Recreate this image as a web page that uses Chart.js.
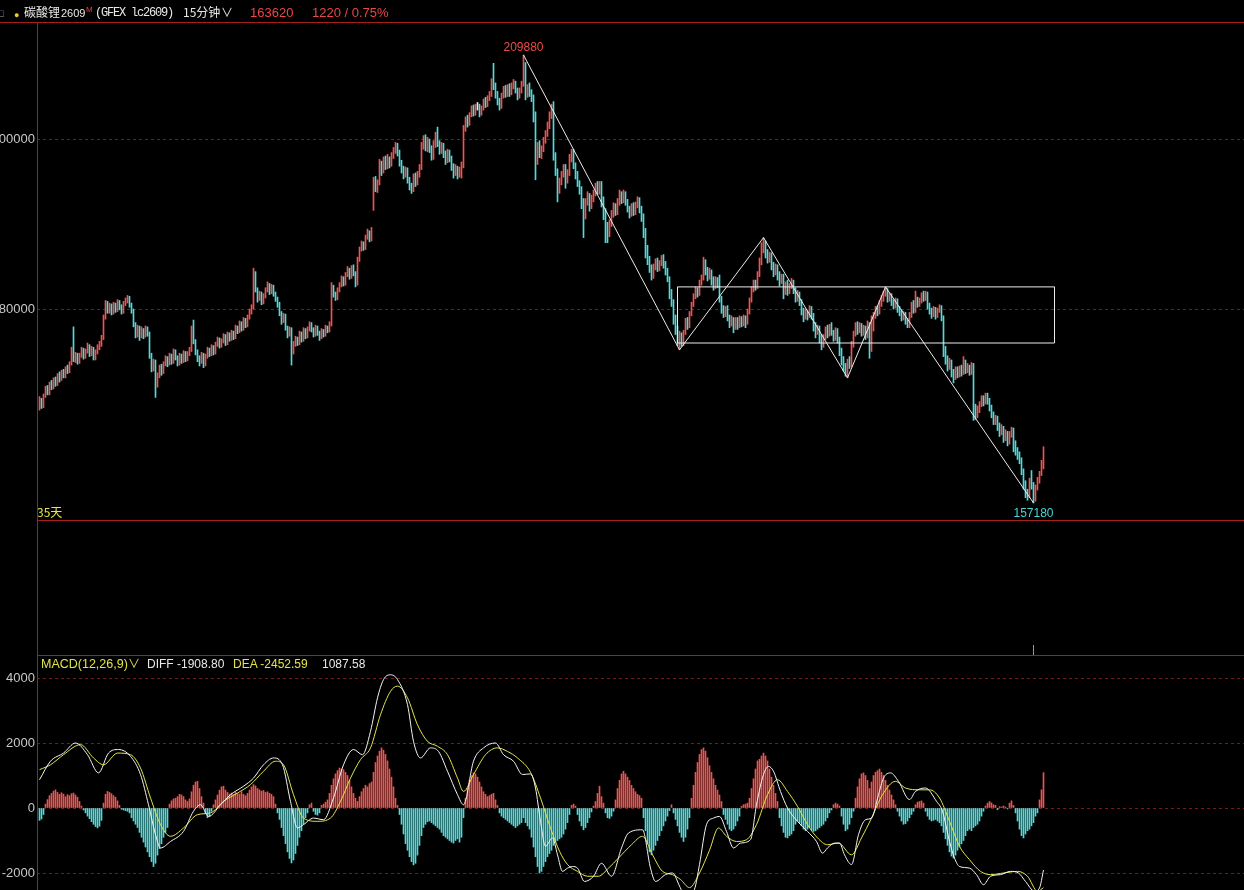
<!DOCTYPE html>
<html>
<head>
<meta charset="utf-8">
<title>碳酸锂2609 15分钟</title>
<script src="https://cdn.jsdelivr.net/npm/chart.js@4.4.1/dist/chart.umd.min.js"></script>
<style>
  html, body { margin: 0; padding: 0; background: #000; }
  body { position: relative; width: 1244px; height: 890px; overflow: hidden;
         font-family: "Liberation Sans", Arial, "Noto Sans CJK SC", sans-serif; }
  canvas { position: absolute; left: 0; }
  .txt { position: absolute; white-space: nowrap; font-size: 12px; line-height: 16px; color: #e8e8e8; }
  .cjk { font-family: "Noto Sans CJK SC", sans-serif; }
  .hline { position: absolute; height: 1px; background: #a81e1e; }
  .vline { position: absolute; width: 1px; background: #a81e1e; }
</style>
</head>
<body>
<canvas id="mainChart" width="1244" height="497" style="top:23px"></canvas>
<canvas id="macdChart" width="1244" height="235" style="top:655px"></canvas>

<div class="hline" style="left:0;top:22px;width:1244px"></div>
<div class="vline" style="left:37px;top:22px;height:868px"></div>
<div class="hline" style="left:37px;top:520px;width:1207px"></div>
<div class="hline" style="left:37px;top:655px;width:1207px"></div>
<div id="lowTick" style="position:absolute;top:645px;width:1px;height:10px;background:#9a9a9a"></div>

<!-- header -->
<span class="txt" style="left:-3px;top:5px;color:#9a9a9a;font-size:11px">□</span>
<span class="txt" style="left:14px;top:7px;color:#e8d020;font-size:9px">●</span>
<span class="txt cjk" style="left:24px;top:4px">碳酸锂</span>
<span class="txt" style="left:61px;top:5px;font-size:11px">2609</span>
<span class="txt" style="left:86px;top:2px;font-size:8px;color:#e84040">M</span>
<span class="txt" style="left:95px;top:5px;font-family:'Liberation Mono',monospace;letter-spacing:-1.2px">(GFEX lc2609)</span>
<span class="txt cjk" style="left:183px;top:4px">15分钟</span>
<span class="txt" style="left:221px;top:5px">∨</span>
<span class="txt" style="left:250px;top:5px;font-size:13px;color:#ec4646">163620</span>
<span class="txt" style="left:312px;top:5px;font-size:13px;color:#ec4646">1220 / 0.75%</span>

<!-- MACD readout -->
<span class="txt" style="left:41px;top:656px;font-size:12.5px;color:#e2e24a">MACD(12,26,9)</span>
<span class="txt" style="left:128px;top:656px;color:#e2e24a">∨</span>
<span class="txt" style="left:147px;top:656px">DIFF -1908.80</span>
<span class="txt" style="left:233px;top:656px;color:#e2e24a">DEA -2452.59</span>
<span class="txt" style="left:322px;top:656px">1087.58</span>

<script>
// prices in hundreds of yuan, one entry per 15-minute bar; open = previous close
const UNIT = 100;
const firstOpen = 1684;
const closes = [
  1692,1686,1698,1706,1701,1712,1708,1716,1711,1720,
  1718,1725,1721,1730,1727,1736,1752,1740,1746,1738,
  1745,1752,1744,1750,1756,1747,1753,1742,1749,1755,
  1758,1766,1790,1806,1798,1803,1796,1805,1799,1808,
  1802,1797,1806,1810,1813,1805,1798,1782,1770,1778,
  1768,1775,1769,1777,1771,1745,1730,1738,1712,1722,
  1731,1726,1735,1742,1736,1745,1738,1750,1743,1736,
  1745,1739,1748,1741,1747,1752,1778,1762,1750,1742,
  1738,1746,1735,1744,1752,1747,1755,1749,1758,1764,
  1757,1762,1768,1760,1770,1765,1772,1767,1778,1774,
  1783,1777,1787,1781,1790,1796,1802,1842,1823,1812,
  1818,1808,1815,1822,1828,1820,1826,1818,1812,1806,
  1795,1786,1792,1778,1770,1776,1750,1758,1765,1760,
  1771,1764,1775,1768,1776,1782,1776,1770,1778,1772,
  1767,1774,1770,1778,1775,1782,1826,1818,1813,1822,
  1828,1836,1830,1840,1846,1838,1848,1842,1830,1858,
  1870,1877,1872,1884,1890,1882,1893,1950,1942,1948,
  1970,1962,1975,1968,1976,1970,1980,1986,1992,1984,
  1972,1965,1958,1964,1952,1945,1940,1956,1948,1958,
  1966,1992,1998,1990,1996,1988,1980,1994,2003,1995,
  1986,1992,1982,1975,1984,1978,1968,1960,1966,1958,
  1964,1970,2012,2022,2018,2028,2035,2030,2038,2038,
  2030,2036,2044,2040,2047,2052,2068,2060,2052,2044,
  2038,2050,2058,2052,2060,2054,2062,2066,2058,2050,
  2056,2064,2088,2052,2060,2054,2048,2030,1975,1990,
  1982,1988,1998,2006,2014,2026,2036,1980,1962,1940,
  1950,1958,1966,1950,1960,1976,1984,1970,1958,1948,
  1940,1925,1912,1925,1934,1922,1930,1936,1944,1938,
  1946,1930,1915,1898,1888,1900,1912,1920,1914,1926,
  1934,1928,1935,1926,1918,1912,1920,1914,1922,1928,
  1918,1908,1890,1872,1858,1848,1840,1850,1856,1848,
  1854,1860,1852,1844,1836,1820,1808,1790,1778,1762,
  1770,1760,1772,1786,1780,1794,1805,1815,1822,1818,
  1830,1836,1856,1846,1838,1844,1834,1826,1834,1828,
  1812,1800,1794,1800,1790,1782,1788,1778,1786,1780,
  1788,1782,1790,1784,1796,1810,1822,1830,1826,1840,
  1855,1872,1878,1866,1858,1864,1852,1844,1850,1840,
  1832,1838,1820,1828,1820,1826,1832,1822,1812,1818,
  1808,1798,1790,1796,1792,1800,1792,1780,1772,1778,
  1766,1758,1766,1776,1770,1778,1772,1766,1774,1764,
  1750,1740,1732,1724,1738,1734,1758,1770,1780,1774,
  1780,1772,1778,1770,1782,1752,1776,1792,1800,1796,
  1806,1812,1818,1822,1812,1816,1808,1804,1810,1800,
  1796,1790,1794,1786,1780,1792,1804,1798,1812,1806,
  1810,1816,1812,1818,1804,1798,1794,1800,1792,1798,
  1802,1790,1752,1740,1732,1738,1726,1720,1728,1722,
  1730,1725,1738,1728,1732,1726,1734,1684,1676,1682,
  1688,1694,1690,1697,1692,1684,1676,1668,1672,1662,
  1656,1660,1648,1654,1644,1652,1658,1640,1634,1628,
  1622,1610,1594,1584,1580,1598,1592,1576,1590,1598,
  1606,1618,1636.2
];
const highs = [
  1697,1695,1700,1709,1710,1714,1716,1719,1720,1724,
  1726,1728,1729,1732,1734,1738,1755,1779,1749,1748,
  1748,1755,1754,1753,1760,1758,1756,1755,1752,1758,
  1762,1769,1793,1810,1809,1807,1806,1808,1807,1811,
  1810,1805,1809,1813,1816,1815,1807,1800,1784,1781,
  1780,1779,1777,1780,1779,1773,1748,1741,1740,1725,
  1734,1735,1738,1745,1744,1748,1747,1753,1752,1745,
  1748,1747,1751,1750,1750,1755,1780,1787,1764,1752,
  1745,1749,1748,1747,1755,1754,1758,1757,1761,1767,
  1766,1765,1771,1770,1773,1772,1775,1774,1781,1780,
  1786,1785,1790,1789,1793,1800,1805,1848,1844,1825,
  1821,1820,1818,1825,1832,1830,1829,1828,1820,1814,
  1808,1797,1795,1794,1780,1779,1778,1762,1768,1767,
  1774,1773,1778,1777,1779,1785,1784,1778,1781,1780,
  1774,1777,1776,1781,1780,1785,1831,1828,1820,1825,
  1831,1839,1838,1843,1850,1848,1851,1852,1844,1861,
  1873,1880,1879,1887,1894,1892,1896,1955,1956,1952,
  1976,1974,1979,1980,1982,1979,1984,1990,1996,1995,
  1987,1975,1968,1967,1966,1955,1948,1959,1960,1962,
  1970,1996,2004,2005,2002,2000,1992,1998,2008,2014,
  1998,1996,1995,1986,1988,1987,1980,1971,1970,1968,
  1967,1973,2016,2026,2028,2031,2039,2040,2041,2043,
  2041,2039,2047,2049,2051,2056,2071,2089,2066,2056,
  2048,2054,2062,2063,2064,2065,2066,2070,2068,2060,
  2060,2068,2098.8,2090,2064,2066,2058,2052,2032,1996,
  1998,1992,2002,2010,2020,2032,2041,2044,1984,1965,
  1954,1962,1970,1970,1964,1982,1988,1988,1972,1962,
  1951,1944,1930,1930,1938,1936,1934,1940,1948,1950,
  1950,1950,1932,1918,1902,1905,1916,1925,1924,1930,
  1940,1938,1940,1938,1929,1921,1924,1925,1926,1932,
  1931,1921,1912,1895,1875,1862,1852,1853,1859,1860,
  1857,1863,1864,1856,1848,1838,1823,1811,1793,1780,
  1774,1772,1775,1789,1790,1797,1808,1818,1826,1825,
  1834,1840,1861,1858,1849,1848,1846,1838,1838,1837,
  1840,1815,1804,1803,1804,1793,1792,1790,1790,1790,
  1792,1791,1793,1792,1800,1813,1826,1834,1834,1844,
  1860,1878,1884,1880,1870,1867,1866,1855,1853,1852,
  1844,1841,1841,1832,1834,1830,1836,1834,1825,1822,
  1820,1811,1801,1800,1798,1804,1803,1795,1784,1781,
  1780,1770,1770,1779,1781,1782,1784,1775,1778,1777,
  1767,1754,1744,1736,1741,1744,1762,1774,1784,1785,
  1784,1783,1781,1780,1786,1784,1792,1796,1803,1804,
  1810,1816,1821,1826,1824,1819,1818,1811,1813,1812,
  1803,1799,1797,1796,1789,1796,1808,1810,1821,1814,
  1813,1819,1821,1821,1820,1807,1801,1803,1802,1801,
  1805,1804,1792,1756,1745,1742,1740,1729,1732,1732,
  1733,1734,1744,1740,1736,1734,1737,1736,1688,1686,
  1691,1698,1698,1701,1701,1695,1687,1679,1675,1674,
  1666,1664,1662,1658,1656,1656,1661,1660,1645,1637,
  1632,1625,1612,1598,1588,1601,1610,1596,1593,1602,
  1609,1622,1638
];
const lows = [
  1681,1683,1684,1696,1699,1699,1705,1706,1709,1710,
  1714,1716,1719,1719,1724,1725,1734,1738,1737,1735,
  1736,1743,1741,1742,1748,1744,1745,1740,1740,1747,
  1752,1756,1764,1788,1795,1795,1793,1794,1796,1797,
  1799,1794,1795,1804,1807,1802,1795,1779,1766,1767,
  1763,1766,1765,1767,1768,1742,1726,1727,1696,1708,
  1719,1722,1724,1733,1732,1734,1735,1736,1740,1733,
  1734,1736,1737,1738,1739,1745,1750,1759,1746,1738,
  1733,1736,1731,1733,1742,1744,1745,1746,1747,1756,
  1754,1755,1760,1757,1758,1762,1763,1764,1765,1771,
  1772,1774,1775,1778,1779,1788,1794,1800,1820,1808,
  1810,1805,1806,1813,1820,1817,1818,1815,1809,1802,
  1792,1782,1784,1775,1766,1768,1734,1747,1756,1757,
  1758,1761,1762,1765,1766,1774,1773,1767,1768,1769,
  1763,1765,1767,1768,1772,1773,1780,1814,1810,1811,
  1820,1826,1827,1828,1838,1835,1836,1839,1826,1828,
  1856,1868,1869,1870,1882,1879,1880,1916,1938,1937,
  1946,1957,1960,1964,1965,1966,1968,1977,1983,1980,
  1968,1960,1953,1955,1948,1940,1936,1938,1944,1946,
  1955,1964,1988,1986,1985,1984,1975,1976,1990,1991,
  1982,1983,1978,1970,1972,1973,1963,1954,1957,1953,
  1955,1954,1966,2009,2014,2016,2026,2027,2028,2034,
  2026,2028,2034,2037,2038,2045,2050,2058,2048,2040,
  2034,2036,2048,2049,2050,2050,2052,2059,2054,2046,
  2048,2054,2062,2046,2049,2050,2044,2020,1952,1970,
  1978,1977,1985,1995,2003,2012,2024,1975,1957,1926,
  1936,1946,1955,1942,1948,1957,1973,1965,1953,1944,
  1935,1918,1884,1906,1922,1915,1918,1926,1933,1935,
  1935,1920,1905,1878,1878,1885,1897,1908,1910,1911,
  1922,1924,1925,1922,1914,1907,1909,1910,1911,1919,
  1913,1903,1884,1860,1852,1843,1834,1836,1846,1844,
  1845,1851,1848,1840,1832,1812,1803,1782,1770,1757,
  1752,1756,1757,1770,1776,1778,1792,1803,1812,1814,
  1816,1828,1834,1840,1833,1835,1828,1822,1824,1825,
  1808,1795,1790,1791,1786,1778,1780,1772,1776,1776,
  1778,1779,1780,1778,1782,1794,1808,1820,1822,1824,
  1838,1852,1866,1860,1854,1855,1846,1838,1840,1834,
  1827,1830,1812,1817,1816,1818,1824,1818,1808,1809,
  1804,1793,1785,1788,1787,1790,1788,1774,1766,1770,
  1760,1752,1755,1764,1766,1768,1769,1762,1763,1760,
  1745,1734,1727,1721,1719,1730,1732,1755,1768,1770,
  1772,1768,1769,1764,1766,1742,1750,1774,1789,1792,
  1794,1803,1809,1815,1808,1809,1804,1800,1801,1796,
  1792,1786,1787,1782,1778,1778,1790,1795,1796,1802,
  1803,1807,1809,1810,1800,1794,1789,1791,1788,1790,
  1796,1786,1744,1735,1727,1729,1720,1713,1717,1719,
  1720,1721,1723,1724,1725,1722,1723,1669,1670,1672,
  1678,1685,1686,1688,1688,1680,1672,1664,1664,1657,
  1650,1652,1643,1645,1639,1641,1649,1632,1628,1623,
  1618,1605,1588,1578,1575,1578,1588,1571.8,1574,1587,
  1595,1604,1612
];
const priceTicks = [180000, 200000];

// MACD(12,26,9) histogram, one bar per candle
const macdHist = [
  -380,-340,-200,120,260,380,450,520,560,480,
  420,470,430,350,410,380,440,460,400,330,
  200,60,-60,-150,-250,-330,-420,-500,-570,-610,
  -560,-380,150,420,510,480,440,380,330,220,
  80,-40,-60,-80,-100,-150,-300,-400,-500,-600,
  -750,-900,-1050,-1200,-1350,-1500,-1650,-1800,-1700,-1450,
  -1250,-1100,-900,-750,-600,120,220,280,300,350,
  420,400,350,250,200,280,500,700,800,820,
  600,350,150,-150,-300,-250,-100,100,250,400,
  550,650,670,550,480,430,460,420,480,450,
  430,500,420,380,450,550,650,720,680,600,
  560,520,540,480,500,450,420,350,120,-150,
  -350,-600,-850,-1100,-1350,-1550,-1690,-1600,-1400,-1150,
  -900,-700,-500,-300,-150,100,150,-100,-200,-220,
  -150,80,120,180,250,450,700,900,1050,1150,
  1230,1200,1180,1100,1000,850,650,450,300,200,
  350,500,600,700,650,750,800,1100,1400,1600,
  1750,1850,1780,1650,1450,1200,950,650,300,80,
  -200,-500,-800,-1100,-1300,-1500,-1650,-1750,-1700,-1450,
  -1150,-850,-600,-500,-420,-400,-450,-500,-550,-600,
  -650,-750,-850,-900,-950,-1000,-1050,-1080,-1000,-950,
  -1050,-900,-300,300,600,850,1000,1080,1050,950,
  800,650,500,420,350,380,420,450,250,80,
  -150,-250,-300,-350,-400,-450,-500,-550,-600,-550,
  -500,-450,-300,-450,-550,-650,-900,-1200,-1500,-1800,
  -2000,-1950,-1800,-1650,-1500,-1400,-1300,-1150,-1050,-1000,
  -950,-900,-800,-650,-450,-200,80,120,60,-200,
  -400,-550,-670,-600,-450,-300,-120,60,200,450,
  670,350,150,-150,-300,-320,-250,-100,250,600,
  850,1050,1130,1050,950,850,700,600,500,420,
  380,300,-300,-700,-1100,-1350,-1440,-1300,-1150,-1000,
  -850,-700,-550,-400,-250,-80,100,-150,-350,-550,
  -750,-900,-1030,-900,-650,-300,300,700,1100,1400,
  1650,1800,1850,1750,1550,1300,1100,900,700,550,
  400,200,-200,-350,-500,-650,-700,-650,-550,-400,
  -250,50,100,120,150,300,600,900,1200,1450,
  1500,1600,1690,1600,1450,1200,950,700,450,200,
  -300,-550,-750,-900,-920,-850,-800,-700,-500,-400,
  -450,-550,-650,-700,-650,-600,-680,-720,-700,-650,
  -600,-550,-500,-400,-300,-150,-60,100,150,120,
  60,-250,-500,-700,-650,-500,-300,-100,300,650,
  900,1050,1080,1000,850,600,800,1000,1100,1150,
  1200,1100,1000,850,700,550,400,250,100,-100,
  -250,-400,-500,-480,-400,-300,-200,-100,100,180,
  200,220,150,-100,-250,-350,-400,-380,-350,-400,
  -450,-550,-750,-950,-1150,-1350,-1480,-1540,-1450,-1300,
  -1200,-1100,-1000,-850,-700,-650,-700,-600,-550,-500,
  -400,-250,-100,60,150,200,160,100,80,-50,
  40,30,60,30,-30,150,220,80,-150,-400,
  -650,-850,-920,-800,-700,-650,-550,-450,-250,-150,
  250,560,1087.58
];
// [bar index, value]
const diffLine = [
  [0,870],[5.5,1440],[12,1690],[18,2000],[24,1640],[29.5,1080],[34.5,1690],[39.5,1800],
  [45.5,1590],[50.5,1030],[54.5,100],[58,-820],[60.5,-1230],[65.5,-1030],[72,-720],[77,-100],
  [80.5,100],[84.5,-260],[90.5,100],[95.5,410],[102,670],[107,920],[112,1330],[117,1540],
  [121.5,1330],[125.5,200],[129,-615],[132,-510],[137,-310],[142,-360],[147,310],[152,1330],
  [157,1800],[161.5,1640],[165.5,2360],[169,3390],[172,3950],[175.5,4100],[179,3950],[184,3180],
  [187,2050],[190.5,1540],[195.5,1850],[199.5,1740],[204,1130],[209,410],[212,100],[217,1440],
  [222,1850],[228,2000],[232,1640],[237,1440],[241.5,1030],[245.5,1050],[248,615],[250.5,-410],
  [253,-1180],[256.5,-920],[259,-1440],[261.5,-1950],[264,-1850],[266.5,-1800],[269,-1850],[272.5,-2260],
  [277,-2100],[281,-1700],[286,-2100],[291,-1230],[294.5,-770],[301.5,-670],[305.5,-1850],[308,-2260],
  [313,-2050],[316.5,-2000],[320,-2400],[323,-2750],[327.5,-2500],[330,-1740],[333.5,-510],[337,-310],
  [340,-260],[343.5,-720],[347,-1230],[350.5,-1080],[355.5,-975],[358.5,100],[362,1030],[364.5,1280],
  [367,1130],[370.5,510],[374,0],[379,-410],[384,-720],[388.5,-1030],[391.5,-1390],[394,-1230],
  [397.5,-1080],[400,-1080],[402.5,-1440],[406,-1740],[409.5,-820],[413,-360],[416,-310],[419.5,410],
  [422,920],[425.5,1080],[429.5,820],[435,260],[438,510],[443,615],[448.5,205],[451.5,-100],
  [455,-1030],[457.5,-1540],[460,-1800],[465,-1850],[468.5,-2050],[472,-2360],[475.5,-2100],[480.5,-2050],
  [485.5,-1950],[489.5,-2000],[493,-2260],[497.5,-2560],[500,-2460],[502,-1908.8]
];
const deaLine = [
  [0,1180],[5.5,1330],[12,1640],[20.5,1950],[27,1540],[32,1330],[39,1690],[45.5,1640],
  [50.5,1230],[55.5,310],[60.5,-510],[65.5,-870],[72,-615],[79,-205],[85.5,-150],[92,205],
  [99,460],[105.5,720],[112,1130],[118,1440],[122,1330],[127,410],[132,-310],[139,-410],
  [145.5,-310],[150.5,205],[155.5,920],[160.5,1490],[165.5,1850],[170.5,2870],[175.5,3590],[179,3750],
  [184,3390],[189,2560],[194,2050],[199,1900],[204,1640],[209,920],[212,510],[217,1030],
  [223,1640],[229,1850],[234,1740],[239,1540],[245.5,1100],[250.5,310],[255.5,-615],[260,-1330],
  [264,-1740],[269,-1950],[274,-2100],[279.5,-2100],[284.5,-1850],[289.5,-1540],[296,-1130],[301.5,-870],
  [306.5,-1440],[311.5,-1950],[316.5,-2050],[320.5,-2200],[325,-2450],[330,-2000],[335,-1300],[339.5,-615],
  [343.5,-870],[348.5,-1030],[353.5,-975],[358.5,-510],[364,410],[369,870],[374,510],[379,50],
  [384,-510],[389,-920],[394,-1130],[399.5,-1080],[406,-1440],[411,-920],[416,-310],[421.5,410],
  [428,820],[433,615],[440,560],[445,560],[450,310],[455,-410],[460,-1180],[465,-1590],
  [470.5,-1950],[475.5,-2050],[482,-2000],[489,-1950],[494,-2100],[499,-2560],[502,-2452.59]
];
const macdTicks = [-2000, 0, 2000, 4000];

// drawn annotations: [bar index, price]
const trendLine = [[242, 209880], [320, 175200], [362, 188400], [404, 171900], [423, 182600], [497, 157180]];
const boxLine = [[319, 182600], [507.5, 182600], [507.5, 176000], [319, 176000], [319, 182600]];
const periodTag = '35天';

const UP = '#ee5450', DOWN = '#50dada', FLAT = '#e8e8e8';
const GRID = '#781a1a';
const X_MIN = -1.25, X_MAX = 602.25;

Chart.defaults.font.family = '"Liberation Sans", Arial, sans-serif';
Chart.defaults.font.size = 13;

function fixAxis(scale) {
  scale.width = 37;
  scale.paddingTop = 0;
  scale.paddingBottom = 0;
}

const candleColors = closes.map((c, i) => {
  const o = i === 0 ? firstOpen : closes[i - 1];
  return c > o ? UP : c < o ? DOWN : FLAT;
});

const extremes = {
  id: 'extremes',
  afterDatasetsDraw(chart) {
    const { ctx, chartArea, scales: { x, y } } = chart;
    const hi = Math.max(...highs), lo = Math.min(...lows);
    const hiIdx = highs.indexOf(hi), loIdx = lows.indexOf(lo);
    ctx.save();
    ctx.font = '12px "Liberation Sans", Arial, sans-serif';
    ctx.textAlign = 'center';
    ctx.textBaseline = 'bottom';
    ctx.fillStyle = '#f04848';
    ctx.fillText(String(Math.round(hi * UNIT)), x.getPixelForValue(hiIdx), y.getPixelForValue(hi * UNIT) - 1);
    ctx.textBaseline = 'top';
    ctx.fillStyle = '#46d6d6';
    ctx.fillText(String(Math.round(lo * UNIT)), x.getPixelForValue(loIdx), y.getPixelForValue(lo * UNIT) + 5);
    ctx.textAlign = 'left';
    ctx.textBaseline = 'bottom';
    ctx.fillStyle = '#e6e64a';
    ctx.font = '12px "Noto Sans CJK SC", sans-serif';
    ctx.fillText(periodTag, chartArea.left, chartArea.bottom - 2);
    ctx.restore();
  }
};

const baseOptions = (yMin, yMax, ticks) => ({
  responsive: false,
  animation: false,
  devicePixelRatio: 1,
  layout: { padding: 0, autoPadding: false },
  plugins: { legend: { display: false }, tooltip: { enabled: false } },
  scales: {
    x: { type: 'linear', min: X_MIN, max: X_MAX, offset: false, display: false },
    y: {
      min: yMin,
      max: yMax,
      afterFit: fixAxis,
      afterBuildTicks: (s) => { s.ticks = ticks.map((v) => ({ value: v })); },
      ticks: { color: '#c8c8c8', padding: 2, callback: (v) => String(v) },
      grid: { color: GRID, drawTicks: false },
      border: { display: false, dash: [3, 3] }
    }
  }
});

const mainChart = new Chart(document.getElementById('mainChart'), {
  type: 'bar',
  data: {
    datasets: [
      {
        type: 'line',
        data: trendLine.map(([x, y]) => ({ x, y })),
        borderColor: '#ececec', borderWidth: 1, pointRadius: 0, order: 0
      },
      {
        type: 'line',
        data: boxLine.map(([x, y]) => ({ x, y })),
        borderColor: '#ececec', borderWidth: 1, pointRadius: 0, order: 0
      },
      {
        type: 'bar',
        data: closes.map((c, i) => ({ x: i, y: [lows[i] * UNIT, highs[i] * UNIT] })),
        backgroundColor: candleColors,
        barThickness: 1,
        borderWidth: 0,
        order: 1
      }
    ]
  },
  options: baseOptions(155177, 213647, priceTicks),
  plugins: [extremes]
});

new Chart(document.getElementById('macdChart'), {
  type: 'bar',
  data: {
    datasets: [
      {
        type: 'line',
        data: diffLine.map(([x, y]) => ({ x, y })),
        borderColor: '#f4f4f4', borderWidth: 1, pointRadius: 0,
        cubicInterpolationMode: 'monotone', order: 0
      },
      {
        type: 'line',
        data: deaLine.map(([x, y]) => ({ x, y })),
        borderColor: '#e4e44c', borderWidth: 1, pointRadius: 0,
        cubicInterpolationMode: 'monotone', order: 0
      },
      {
        type: 'bar',
        data: macdHist.map((v, i) => ({ x: i, y: v })),
        backgroundColor: macdHist.map((v) => (v >= 0 ? UP : DOWN)),
        barThickness: 1,
        borderWidth: 0,
        order: 1
      }
    ]
  },
  options: baseOptions(-2523, 4708, macdTicks)
});

// small marker under the lowest bar in the volume pane
const lowIdx = lows.indexOf(Math.min(...lows));
document.getElementById('lowTick').style.left =
  Math.floor(mainChart.scales.x.getPixelForValue(lowIdx)) + 'px';
</script>
</body>
</html>
